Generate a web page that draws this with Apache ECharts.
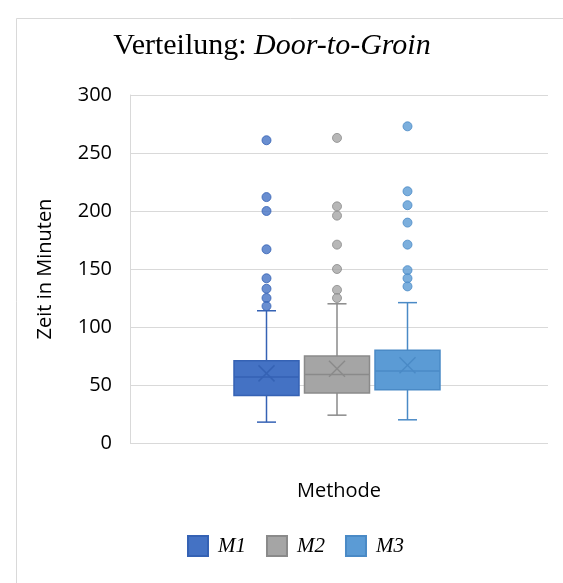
<!DOCTYPE html>
<html>
<head>
<meta charset="utf-8">
<script src="https://cdn.jsdelivr.net/npm/echarts@6/dist/echarts.min.js"></script>
<style>
  html, body { margin: 0; padding: 0; background: #fff; }
  #chart { width: 563px; height: 583px; }
</style>
</head>
<body>
<div id="chart"></div>
<script>
// Methods shown side by side
const methods = ['M1', 'M2', 'M3'];

// Five-number summaries in minutes: [min whisker, Q1, median, Q3, max whisker]
const m1Box = [18, 41, 57, 71, 114];
const m2Box = [24, 43, 59, 75, 120];
const m3Box = [20, 46, 62, 80, 121];

// Means (drawn as an X inside each box)
const m1Mean = 60;
const m2Mean = 64;
const m3Mean = 67;

// Points beyond the whiskers
const m1Outliers = [261, 212, 200, 167, 142, 133, 125, 118];
const m2Outliers = [263, 204, 196, 171, 150, 132, 125];
const m3Outliers = [273, 217, 205, 190, 171, 149, 142, 135];

// Y axis ticks
const yTicks = [0, 50, 100, 150, 200, 250, 300];

const fills = ['#4472C4', '#A5A5A5', '#5B9BD5'];
const strokes = ['#3562B4', '#8A8A8A', '#4A8AC6'];

const chart = echarts.init(document.getElementById('chart'));

function renderBox(params, api) {
  const x = api.value(0);
  const band = api.size([1, 0])[0];
  const half = band * 0.461;
  const capHalf = band * 0.135;
  const xHalf = 8;
  const pMin = api.coord([x, api.value(1)]);
  const pQ1 = api.coord([x, api.value(2)]);
  const pMed = api.coord([x, api.value(3)]);
  const pQ3 = api.coord([x, api.value(4)]);
  const pMax = api.coord([x, api.value(5)]);
  const pMean = api.coord([x, api.value(6)]);
  const cx = pMed[0];
  const fill = api.visual('color');
  const stroke = strokes[params.seriesIndex];
  const line = { stroke: stroke, lineWidth: 1.5 };
  return {
    type: 'group',
    children: [
      { type: 'line', shape: { x1: cx, y1: pMin[1], x2: cx, y2: pQ1[1] }, style: line },
      { type: 'line', shape: { x1: cx, y1: pQ3[1], x2: cx, y2: pMax[1] }, style: line },
      { type: 'line', shape: { x1: cx - capHalf, y1: pMin[1], x2: cx + capHalf, y2: pMin[1] }, style: line },
      { type: 'line', shape: { x1: cx - capHalf, y1: pMax[1], x2: cx + capHalf, y2: pMax[1] }, style: line },
      {
        type: 'rect',
        shape: { x: cx - half, y: pQ3[1], width: half * 2, height: pQ1[1] - pQ3[1] },
        style: { fill: fill, stroke: stroke, lineWidth: 1.5 }
      },
      { type: 'line', shape: { x1: cx - half, y1: pMed[1], x2: cx + half, y2: pMed[1] }, style: line },
      { type: 'line', shape: { x1: cx - xHalf, y1: pMean[1] - xHalf, x2: cx + xHalf, y2: pMean[1] + xHalf }, style: line },
      { type: 'line', shape: { x1: cx - xHalf, y1: pMean[1] + xHalf, x2: cx + xHalf, y2: pMean[1] - xHalf }, style: line }
    ]
  };
}

const boxes = [m1Box, m2Box, m3Box];
const means = [m1Mean, m2Mean, m3Mean];
const outliers = [m1Outliers, m2Outliers, m3Outliers];

const boxSeries = methods.map(function (name, i) {
  return {
    name: name,
    type: 'custom',
    xAxisIndex: 1,
    yAxisIndex: 1,
    renderItem: renderBox,
    itemStyle: { color: fills[i], borderColor: strokes[i], borderWidth: 1 },
    encode: { x: 0, y: [1, 2, 3, 4, 5, 6] },
    data: [[i].concat(boxes[i], [means[i]])],
    z: 3
  };
});

const outlierSeries = methods.map(function (name, i) {
  return {
    name: name,
    type: 'scatter',
    xAxisIndex: 1,
    yAxisIndex: 1,
    symbol: 'circle',
    symbolSize: 9,
    itemStyle: { color: fills[i], borderColor: strokes[i], borderWidth: 1 },
    data: outliers[i].map(function (v) { return [i, v]; }),
    z: 4
  };
});

const sansFont = '"Open Sans", "Noto Sans", sans-serif';
const serifFont = '"Liberation Serif", "DejaVu Serif", serif';

chart.setOption({
  animation: false,
  backgroundColor: '#fff',
  graphic: [{
    type: 'rect',
    shape: { x: 16.5, y: 18.5, width: 700, height: 700 },
    style: { fill: 'none', stroke: '#d9d9d9', lineWidth: 1 },
    silent: true,
    z: -1
  }],
  title: {
    text: '{a|Verteilung: }{b|Door-to-Groin}',
    left: 272,
    textAlign: 'center',
    top: 31,
    padding: 0,
    textStyle: {
      rich: {
        a: { fontFamily: serifFont, fontSize: 30, fontWeight: 'normal', color: '#000' },
        b: { fontFamily: serifFont, fontSize: 30, fontWeight: 'normal', fontStyle: 'italic', color: '#000' }
      }
    }
  },
  legend: {
    data: methods,
    left: 187,
    top: 535,
    padding: 0,
    icon: 'rect',
    itemWidth: 20,
    itemHeight: 20,
    itemGap: 20,
    textStyle: {
      fontFamily: serifFont,
      fontStyle: 'italic',
      fontSize: 21,
      color: '#000',
      padding: [0, 0, 0, 5]
    }
  },
  grid: [
    { left: 130, right: 15, top: 95, bottom: 140 },
    { left: 231.25, width: 211.5, top: 95, bottom: 140 }
  ],
  xAxis: [
    {
      type: 'category',
      gridIndex: 0,
      data: [''],
      axisLine: { show: false },
      axisTick: { show: false },
      axisLabel: { show: false },
      name: 'Methode',
      nameLocation: 'middle',
      nameGap: 38,
      nameTextStyle: { fontFamily: sansFont, fontSize: 20, color: '#000' }
    },
    {
      type: 'category',
      gridIndex: 1,
      data: methods,
      show: false
    }
  ],
  yAxis: [
    {
      type: 'value',
      gridIndex: 0,
      min: yTicks[0],
      max: yTicks[yTicks.length - 1],
      interval: yTicks[1] - yTicks[0],
      axisLine: { show: true, lineStyle: { color: '#d9d9d9', width: 1 } },
      axisTick: { show: false },
      axisLabel: { fontFamily: sansFont, fontSize: 20, color: '#000', margin: 18 },
      splitLine: { lineStyle: { color: '#d9d9d9', width: 1 } },
      name: 'Zeit in Minuten',
      nameLocation: 'middle',
      nameGap: 75,
      nameTextStyle: { fontFamily: sansFont, fontSize: 20, color: '#000' }
    },
    {
      type: 'value',
      gridIndex: 1,
      min: yTicks[0],
      max: yTicks[yTicks.length - 1],
      show: false
    }
  ],
  series: boxSeries.concat(outlierSeries)
});
</script>
</body>
</html>
